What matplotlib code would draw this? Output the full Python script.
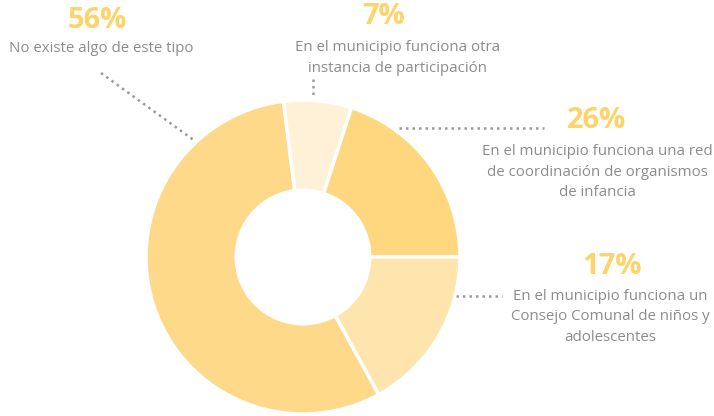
import matplotlib.pyplot as plt

# slice sizes as drawn (clockwise from the top-left boundary)
categories = ['En el municipio funciona otra\ninstancia de participación',
              'En el municipio funciona una red\nde coordinación de organismos\nde infancia',
              'En el municipio funciona un\nConsejo Comunal de niños y\nadolescentes',
              'No existe algo de este tipo']
shares = [7, 20, 17, 56]
pct_labels = ['7%', '26%', '17%', '56%']
colors = ['#FEF1D7', '#FED77F', '#FEE5AE', '#FED98A']

W, H = 714, 416
fig = plt.figure(figsize=(W / 100, H / 100), dpi=100)
ax = fig.add_axes([0, 0, 1, 1])
ax.set_xlim(0, W)
ax.set_ylim(0, H)
ax.set_aspect('equal')
ax.axis('off')

def Y(y):
    return H - y

cx, cy, R = 303, 257, 157
ax.pie(shares, colors=colors, startangle=97.2, counterclock=False,
       center=(cx, Y(cy)), radius=R, frame=True,
       wedgeprops=dict(width=R * 0.575, edgecolor='white', linewidth=2.5))
ax.set_xlim(0, W)
ax.set_ylim(0, H)
ax.axis('off')

pct_color = '#FDD36B'
txt_color = '#8C8C8C'
font = 'Open Sans'

# label layout: (pct x, pct y, text x, text y)
layout = [
    (384, 16, 398, 58),
    (597, 120, 597, 172),
    (612, 267, 610, 317),
    (97, 21, 101, 48),
]
for (px, py, tx, ty), p, c in zip(layout, pct_labels, categories):
    ax.text(px, Y(py), p, ha='center', va='center', fontsize=21,
            fontweight='bold', color=pct_color, family=font)
    ax.text(tx, Y(ty), c, ha='center', va='center', fontsize=10.8,
            color=txt_color, family=font, linespacing=1.48)

# dotted leader lines
leaders = [
    ((313, 79), (313, 97)),
    ((399, 128), (544, 128)),
    ((456, 296), (502, 296)),
    ((101, 73), (195, 141)),
]
for (x0, y0), (x1, y1) in leaders:
    ax.plot([x0, x1], [Y(y0), Y(y1)], color='#9A9A9A', linewidth=1.8,
            linestyle=(0, (1, 1.6)))

fig.savefig('out.png', dpi=100)
